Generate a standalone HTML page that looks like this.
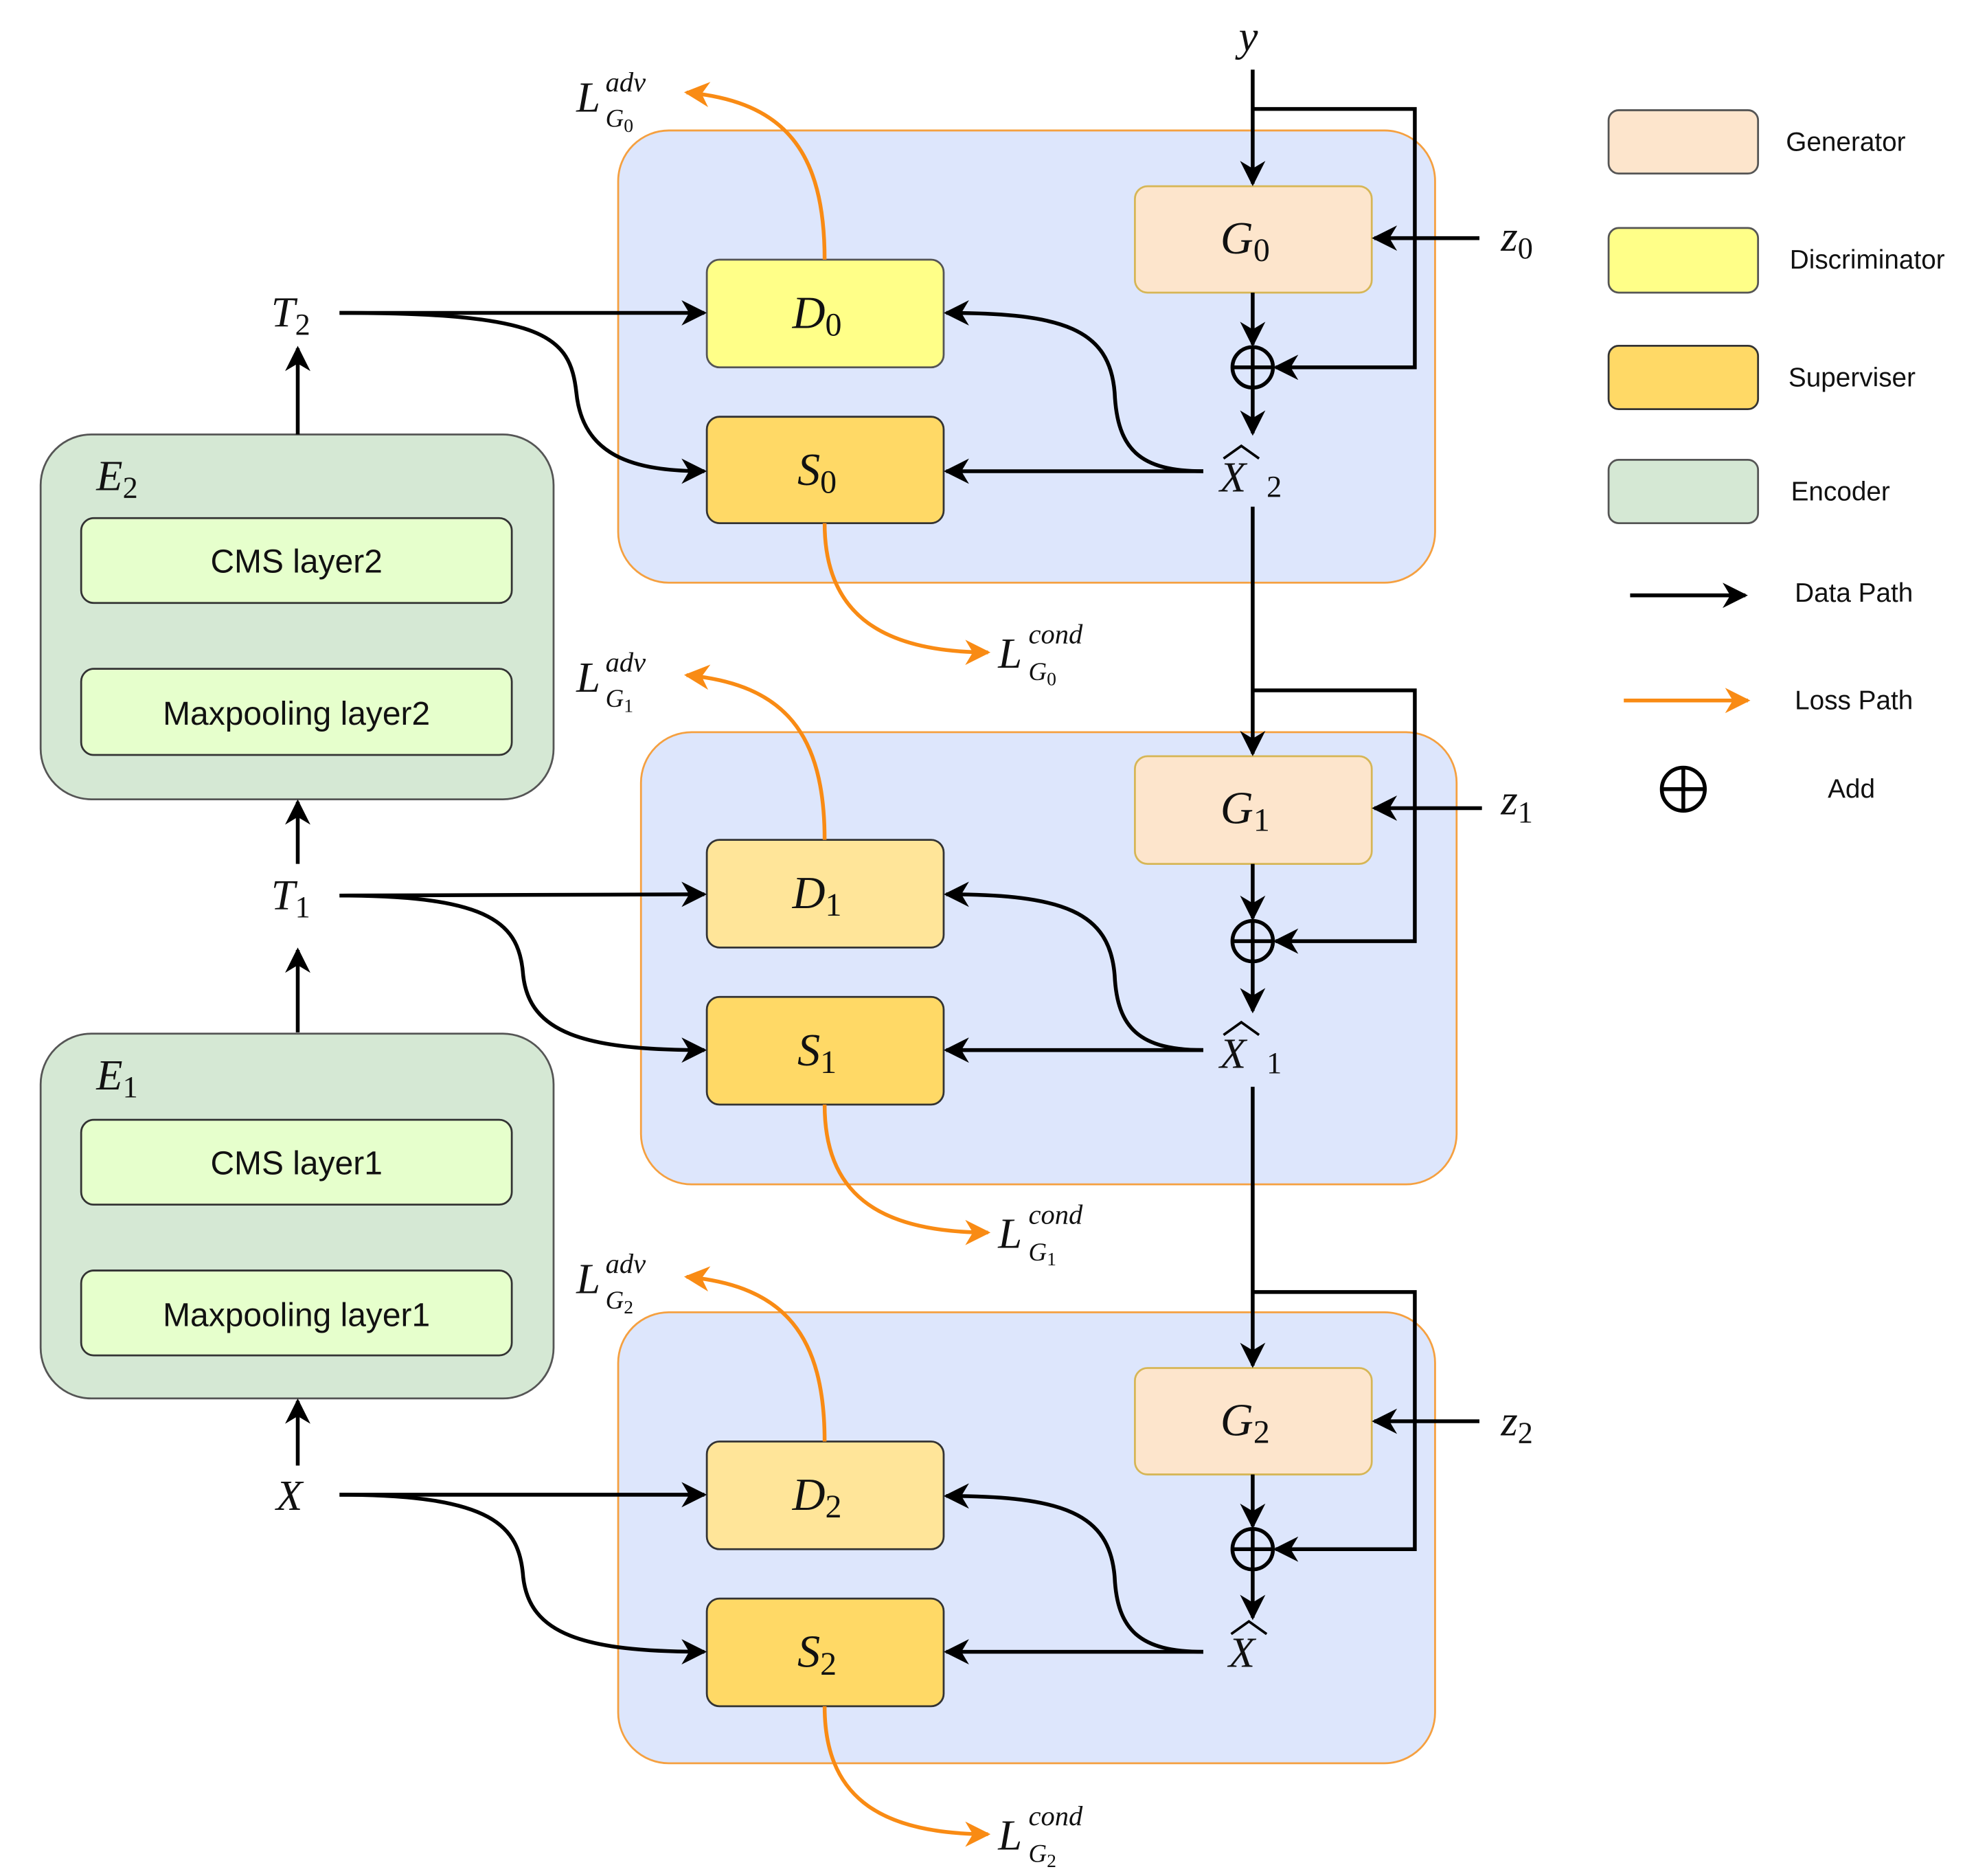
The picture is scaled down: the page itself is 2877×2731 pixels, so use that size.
<!DOCTYPE html>
<html><head><meta charset="utf-8"><style>
html,body{margin:0;padding:0;background:#fff}
svg{display:block}
.m{font-family:"Liberation Serif",serif;font-style:italic;fill:#111}
.s{font-family:"Liberation Sans",sans-serif;fill:#111}
</style></head><body>
<svg width="2877" height="2731" viewBox="0 0 1560 1481" xmlns="http://www.w3.org/2000/svg">
<defs>
<marker id="a" viewBox="0 0 10 10" refX="9" refY="5" markerWidth="7" markerHeight="7" orient="auto" markerUnits="userSpaceOnUse"><path d="M0,0 L10,5 L0,10 L3,5 z" fill="#000"/></marker>
<marker id="ab" viewBox="0 0 10 10" refX="9" refY="5" markerWidth="20" markerHeight="20" orient="auto" markerUnits="userSpaceOnUse"><path d="M0,0 L10,5 L0,10 L3,5 z" fill="#000"/></marker>
<marker id="o" viewBox="0 0 10 10" refX="9" refY="5" markerWidth="20" markerHeight="20" orient="auto" markerUnits="userSpaceOnUse"><path d="M0,0 L10,5 L0,10 L3,5 z" fill="#f98b14"/></marker>
</defs>
<rect width="1560" height="1481" fill="#fff"/>
<!-- panels -->
<rect x="488" y="103" width="645" height="357" rx="40" fill="#dde6fc" stroke="#f5a040" stroke-width="1.5"/>
<rect x="506" y="578" width="644" height="357" rx="40" fill="#dde6fc" stroke="#f5a040" stroke-width="1.5"/>
<rect x="488" y="1036" width="645" height="356" rx="40" fill="#dde6fc" stroke="#f5a040" stroke-width="1.5"/>
<!-- encoders -->
<rect x="32" y="343" width="405" height="288" rx="40" fill="#d5e8d4" stroke="#555" stroke-width="1.5"/>
<rect x="64" y="409" width="340" height="67" rx="10" fill="#e6ffcc" stroke="#333" stroke-width="1.5"/>
<rect x="64" y="528" width="340" height="68" rx="10" fill="#e6ffcc" stroke="#333" stroke-width="1.5"/>
<text x="234" y="452" class="s" font-size="26" text-anchor="middle">CMS layer2</text>
<text x="234" y="572" class="s" font-size="26" text-anchor="middle">Maxpooling layer2</text>
<text x="76" y="387" class="m" font-size="34">E<tspan font-style="normal" font-size="24" dy="6">2</tspan></text>
<rect x="32" y="816" width="405" height="288" rx="40" fill="#d5e8d4" stroke="#555" stroke-width="1.5"/>
<rect x="64" y="884" width="340" height="67" rx="10" fill="#e6ffcc" stroke="#333" stroke-width="1.5"/>
<rect x="64" y="1003" width="340" height="67" rx="10" fill="#e6ffcc" stroke="#333" stroke-width="1.5"/>
<text x="234" y="927" class="s" font-size="26" text-anchor="middle">CMS layer1</text>
<text x="234" y="1047" class="s" font-size="26" text-anchor="middle">Maxpooling layer1</text>
<text x="76" y="860" class="m" font-size="34">E<tspan font-style="normal" font-size="24" dy="6">1</tspan></text>
<!-- encoder arrows -->
<g stroke="#000" stroke-width="3" fill="none" marker-end="url(#ab)">
<line x1="235" y1="343" x2="235" y2="275"/>
<line x1="235" y1="682" x2="235" y2="633"/>
<line x1="235" y1="815" x2="235" y2="750"/>
<line x1="235" y1="1157" x2="235" y2="1106"/>
</g>
<text x="214" y="258" class="m" font-size="34">T<tspan font-style="normal" font-size="24" dy="6">2</tspan></text>
<text x="214" y="718" class="m" font-size="34">T<tspan font-style="normal" font-size="24" dy="6">1</tspan></text>
<text x="218" y="1192" class="m" font-size="34">X</text>
<!-- module boxes -->
<g stroke-width="1.5">
<rect x="558" y="205" width="187" height="85" rx="10" fill="#ffff88" stroke="#555"/>
<rect x="558" y="329" width="187" height="84" rx="10" fill="#ffd966" stroke="#333"/>
<rect x="896" y="147" width="187" height="84" rx="10" fill="#fde5cc" stroke="#d6b656"/>
<rect x="558" y="663" width="187" height="85" rx="10" fill="#ffe599" stroke="#333"/>
<rect x="558" y="787" width="187" height="85" rx="10" fill="#ffd966" stroke="#333"/>
<rect x="896" y="597" width="187" height="85" rx="10" fill="#fde5cc" stroke="#d6b656"/>
<rect x="558" y="1138" width="187" height="85" rx="10" fill="#ffe599" stroke="#333"/>
<rect x="558" y="1262" width="187" height="85" rx="10" fill="#ffd966" stroke="#333"/>
<rect x="896" y="1080" width="187" height="84" rx="10" fill="#fde5cc" stroke="#d6b656"/>
</g>
<g class="m" font-size="36" text-anchor="middle">
<text x="645" y="259">D<tspan font-style="normal" font-size="26" dy="6">0</tspan></text>
<text x="645" y="383">S<tspan font-style="normal" font-size="26" dy="6">0</tspan></text>
<text x="983" y="200">G<tspan font-style="normal" font-size="26" dy="6">0</tspan></text>
<text x="645" y="717">D<tspan font-style="normal" font-size="26" dy="6">1</tspan></text>
<text x="645" y="841">S<tspan font-style="normal" font-size="26" dy="6">1</tspan></text>
<text x="983" y="650">G<tspan font-style="normal" font-size="26" dy="6">1</tspan></text>
<text x="645" y="1192">D<tspan font-style="normal" font-size="26" dy="6">2</tspan></text>
<text x="645" y="1316">S<tspan font-style="normal" font-size="26" dy="6">2</tspan></text>
<text x="983" y="1133">G<tspan font-style="normal" font-size="26" dy="6">2</tspan></text>
</g>
<!-- X hat labels -->
<g class="m" font-size="34">
<text x="963" y="388">X</text><text x="1000" y="392" font-style="normal" font-size="24">2</text>
<path d="M966 362 L980 352 L994 362" stroke="#000" stroke-width="2" fill="none"/>
<text x="963" y="843">X</text><text x="1000" y="847" font-style="normal" font-size="24">1</text>
<path d="M966 817 L980 807 L994 817" stroke="#000" stroke-width="2" fill="none"/>
<text x="970" y="1316">X</text>
<path d="M972 1290 L986 1280 L1000 1290" stroke="#000" stroke-width="2" fill="none"/>
<text x="978" y="40">y</text>
<text x="1185" y="198">z<tspan font-style="normal" font-size="24" dy="6">0</tspan></text>
<text x="1185" y="643">z<tspan font-style="normal" font-size="24" dy="6">1</tspan></text>
<text x="1185" y="1133">z<tspan font-style="normal" font-size="24" dy="6">2</tspan></text>
</g>
<!-- add circles -->
<g stroke="#000" stroke-width="3" fill="none">
<circle cx="989" cy="290" r="16"/><line x1="973" y1="290" x2="1005" y2="290"/><line x1="989" y1="274" x2="989" y2="306"/>
<circle cx="989" cy="743" r="16"/><line x1="973" y1="743" x2="1005" y2="743"/><line x1="989" y1="727" x2="989" y2="759"/>
<circle cx="989" cy="1223" r="16"/><line x1="973" y1="1223" x2="1005" y2="1223"/><line x1="989" y1="1207" x2="989" y2="1239"/>
</g>
<!-- data paths -->
<g stroke="#000" stroke-width="3" fill="none">
<line x1="989" y1="55" x2="989" y2="145" marker-end="url(#ab)"/>
<polyline points="989,86 1117,86 1117,290 1007,290" marker-end="url(#ab)"/>
<line x1="1168" y1="188" x2="1085" y2="188" marker-end="url(#ab)"/>
<line x1="989" y1="231" x2="989" y2="272" marker-end="url(#ab)"/>
<line x1="989" y1="306" x2="989" y2="342" marker-end="url(#ab)"/>
<line x1="989" y1="400" x2="989" y2="595" marker-end="url(#ab)"/>
<polyline points="989,545 1117,545 1117,743 1007,743" marker-end="url(#ab)"/>
<line x1="1170" y1="638" x2="1085" y2="638" marker-end="url(#ab)"/>
<line x1="989" y1="682" x2="989" y2="725" marker-end="url(#ab)"/>
<line x1="989" y1="759" x2="989" y2="798" marker-end="url(#ab)"/>
<line x1="989" y1="858" x2="989" y2="1078" marker-end="url(#ab)"/>
<polyline points="989,1020 1117,1020 1117,1223 1007,1223" marker-end="url(#ab)"/>
<line x1="1168" y1="1122" x2="1085" y2="1122" marker-end="url(#ab)"/>
<line x1="989" y1="1164" x2="989" y2="1205" marker-end="url(#ab)"/>
<line x1="989" y1="1239" x2="989" y2="1277" marker-end="url(#ab)"/>
<!-- T to D/S -->
<line x1="268" y1="247" x2="556" y2="247" marker-end="url(#ab)"/>
<path d="M268 247 C430 247 450 265 455 310 C460 360 500 372 556 372" marker-end="url(#ab)"/>
<line x1="268" y1="707" x2="556" y2="706" marker-end="url(#ab)"/>
<path d="M268 707 C390 707 410 730 413 770 C418 815 460 829 556 829" marker-end="url(#ab)"/>
<line x1="268" y1="1180" x2="556" y2="1180" marker-end="url(#ab)"/>
<path d="M268 1180 C390 1180 410 1205 413 1245 C418 1290 460 1304 556 1304" marker-end="url(#ab)"/>
<!-- Xhat to S/D -->
<line x1="950" y1="372" x2="747" y2="372" marker-end="url(#ab)"/>
<path d="M950 372 C900 372 882 355 880 310 C876 260 840 247 747 247" marker-end="url(#ab)"/>
<line x1="950" y1="829" x2="747" y2="829" marker-end="url(#ab)"/>
<path d="M950 829 C900 829 882 812 880 770 C876 720 840 706 747 706" marker-end="url(#ab)"/>
<line x1="950" y1="1304" x2="747" y2="1304" marker-end="url(#ab)"/>
<path d="M950 1304 C900 1304 882 1287 880 1245 C876 1195 840 1181 747 1181" marker-end="url(#ab)"/>
</g>
<!-- loss paths -->
<g stroke="#f98b14" stroke-width="3" fill="none" marker-end="url(#o)">
<path d="M651 205 C651 120 620 80 542 73"/>
<path d="M651 413 C651 480 690 515 780 515"/>
<path d="M651 663 C651 580 620 540 542 533"/>
<path d="M651 872 C651 940 690 973 780 973"/>
<path d="M651 1138 C651 1055 620 1015 542 1008"/>
<path d="M651 1347 C651 1415 690 1448 780 1448"/>
</g>
<!-- loss labels -->
<g class="m">
<text x="455" y="88" font-size="34">L</text><text x="478" y="72" font-size="22">adv</text><text x="478" y="100" font-size="20">G<tspan font-style="normal" font-size="15" dy="4">0</tspan></text>
<text x="455" y="546" font-size="34">L</text><text x="478" y="530" font-size="22">adv</text><text x="478" y="558" font-size="20">G<tspan font-style="normal" font-size="15" dy="4">1</tspan></text>
<text x="455" y="1021" font-size="34">L</text><text x="478" y="1005" font-size="22">adv</text><text x="478" y="1033" font-size="20">G<tspan font-style="normal" font-size="15" dy="4">2</tspan></text>
<text x="788" y="527" font-size="34">L</text><text x="812" y="508" font-size="22">cond</text><text x="812" y="537" font-size="20">G<tspan font-style="normal" font-size="15" dy="4">0</tspan></text>
<text x="788" y="985" font-size="34">L</text><text x="812" y="983" dy="-17" font-size="22">cond</text><text x="812" y="995" font-size="20">G<tspan font-style="normal" font-size="15" dy="4">1</tspan></text>
<text x="788" y="1460" font-size="34">L</text><text x="812" y="1441" font-size="22">cond</text><text x="812" y="1470" font-size="20">G<tspan font-style="normal" font-size="15" dy="4">2</tspan></text>
</g>
<!-- legend -->
<rect x="1270" y="87" width="118" height="50" rx="8" fill="#fde5cc" stroke="#555" stroke-width="1.5"/>
<rect x="1270" y="180" width="118" height="51" rx="8" fill="#ffff88" stroke="#555" stroke-width="1.5"/>
<rect x="1270" y="273" width="118" height="50" rx="8" fill="#ffd966" stroke="#333" stroke-width="1.5"/>
<rect x="1270" y="363" width="118" height="50" rx="8" fill="#d5e8d4" stroke="#555" stroke-width="1.5"/>
<g class="s" font-size="21">
<text x="1410" y="119">Generator</text>
<text x="1413" y="212">Discriminator</text>
<text x="1412" y="305">Superviser</text>
<text x="1414" y="395">Encoder</text>
<text x="1417" y="475">Data Path</text>
<text x="1417" y="560">Loss Path</text>
<text x="1443" y="630">Add</text>
</g>
<line x1="1287" y1="470" x2="1378" y2="470" stroke="#000" stroke-width="3" marker-end="url(#ab)"/>
<line x1="1282" y1="553" x2="1380" y2="553" stroke="#f98b14" stroke-width="3" marker-end="url(#o)"/>
<g stroke="#000" stroke-width="3" fill="none">
<circle cx="1329" cy="623" r="17"/><line x1="1312" y1="623" x2="1346" y2="623"/><line x1="1329" y1="606" x2="1329" y2="640"/>
</g>
</svg>
</body></html>
